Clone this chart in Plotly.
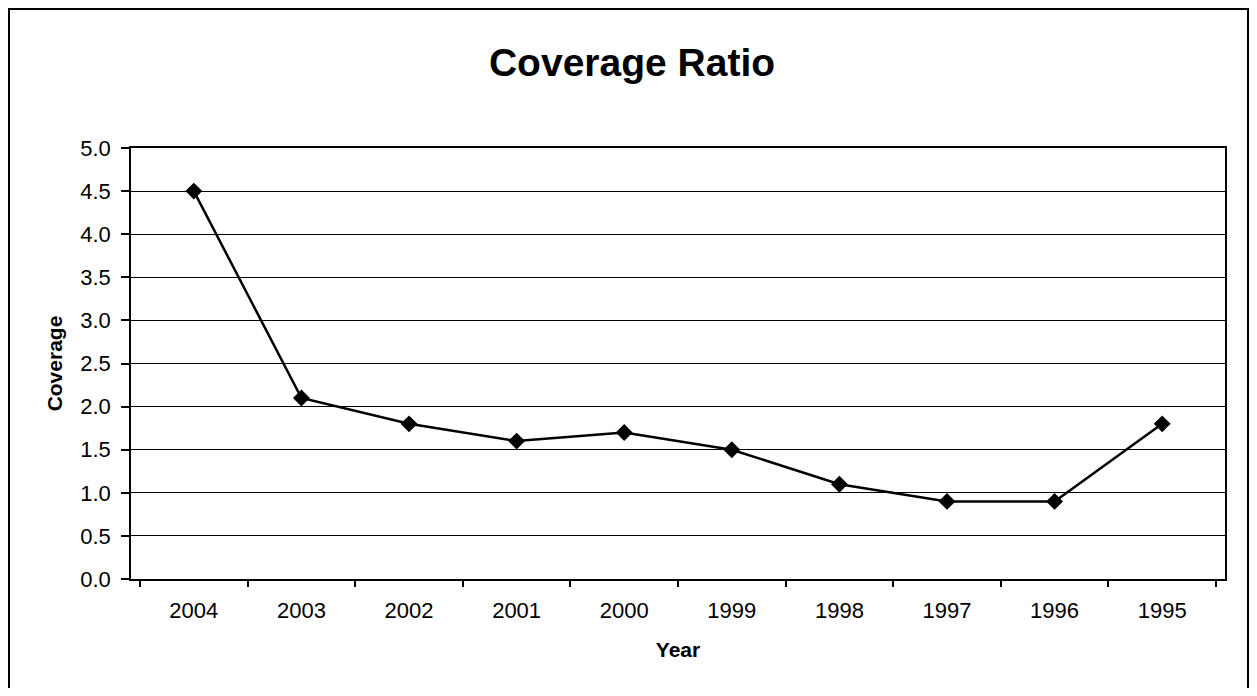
import plotly.graph_objects as go

years = ["2004", "2003", "2002", "2001", "2000", "1999", "1998", "1997", "1996", "1995"]
coverage = [4.5, 2.1, 1.8, 1.6, 1.7, 1.5, 1.1, 0.9, 0.9, 1.8]
y_ticks = [0.0, 0.5, 1.0, 1.5, 2.0, 2.5, 3.0, 3.5, 4.0, 4.5, 5.0]

FONT = "Liberation Sans, Arial, sans-serif"

fig = go.Figure()
fig.add_trace(go.Scatter(
    x=years, y=coverage, mode="lines+markers",
    line=dict(color="black", width=2.5),
    marker=dict(symbol="diamond", size=13, color="black"),
    showlegend=False,
))

# page has an 8px body margin; figure sized to fit the 1257x696 window
W, H = 1241, 680
L, T = 123, 140
R = W - 1217
B = H - 571
pw, ph = W - L - R, H - T - B

def px_x(px):
    return (px - L) / pw

def px_y(py):
    return (H - B - py) / ph

fig.update_layout(
    width=W, height=H,
    margin=dict(l=L, r=R, t=T, b=B),
    paper_bgcolor="white", plot_bgcolor="white",
    font=dict(family=FONT, color="black", size=22),
    title=dict(text="<b>Coverage Ratio</b>", xref="container", x=624 / W, xanchor="center",
               yref="container", y=1 - 54.5 / H, yanchor="middle",
               font=dict(size=39, family=FONT, color="black")),
    xaxis=dict(
        type="category", tickson="boundaries",
        showline=True, linecolor="black", linewidth=1.5, mirror=True,
        ticks="outside", ticklen=6, tickcolor="black", tickwidth=1.5,
        ticklabelstandoff=11,
        showgrid=False,
        title=dict(text="<b>Year</b>", font=dict(size=21, family=FONT), standoff=20),
        tickfont=dict(size=22, family=FONT),
    ),
    yaxis=dict(
        range=[0, 5], tickvals=y_ticks, tickformat=".1f",
        showline=True, linecolor="black", linewidth=1.5, mirror=True,
        ticks="outside", ticklen=8, tickcolor="black", tickwidth=1.5,
        ticklabelstandoff=6,
        showgrid=True, gridcolor="black", gridwidth=1.2,
        zeroline=False,
        title=dict(text="<b>Coverage</b>", font=dict(size=21, family=FONT), standoff=12),
        tickfont=dict(size=22, family=FONT),
    ),
    shapes=[dict(
        type="rect", xref="paper", yref="paper",
        x0=px_x(1), x1=px_x(W - 1), y0=px_y(H + 20), y1=px_y(1),
        line=dict(color="black", width=2), fillcolor="rgba(0,0,0,0)", layer="below",
    )],
)

fig.write_html("out.html")
